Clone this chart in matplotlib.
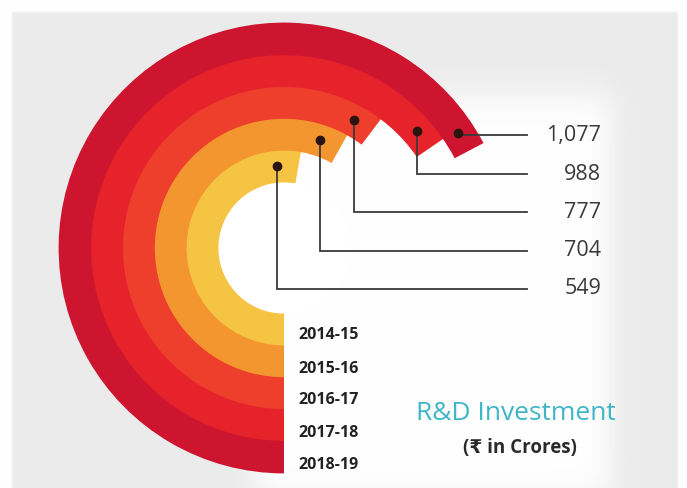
import numpy as np
import matplotlib
matplotlib.use("Agg")
import matplotlib.pyplot as plt
from matplotlib.patches import Wedge, Circle

# ---- data ----
years = ["2014-15", "2015-16", "2016-17", "2017-18", "2018-19"]
values = [549, 704, 777, 988, 1077]
value_labels = ["549", "704", "777", "988", "1,077"]
colors = ["#F6C443", "#F4962F", "#EE3E2C", "#E6222A", "#CE1530"]
title = "R&D Investment"
subtitle = "(₹ in Crores)"

W, H = 687, 488
fig = plt.figure(figsize=(W / 100, H / 100), dpi=100)
fig.patch.set_facecolor("white")
ax = fig.add_axes([0, 0, 1, 1])
ax.set_xlim(0, W)
ax.set_ylim(0, H)
ax.axis("off")

def Y(py):  # pixel row -> data y
    return H - py

# background: light grey panel with a soft white area behind the leaders
xx, yy = np.meshgrid(np.arange(W) + 0.5, np.arange(H) + 0.5)
def soft(a, lo, hi, s):
    return 1 / (1 + np.exp(-(a - lo) / s)) * 1 / (1 + np.exp((a - hi) / s))
white = soft(xx, 255, 612, 8) * soft(yy, 95, 500, 10)
panel = soft(xx, 12, 678, 0.6) * soft(yy, 12, 600, 0.6)
grey = np.array([235, 235, 235]) / 255.0
base = 1 - panel[..., None] * (1 - grey)
img = base * (1 - white[..., None]) + white[..., None] * 1.0
ax.imshow(img, extent=(0, W, 0, H), origin="upper", zorder=0, interpolation="bilinear")
ax.set_xlim(0, W)
ax.set_ylim(0, H)

# radial scale: value -> clockwise sweep (deg) from 6 o'clock (log scale)
dom = (500.0, 1100.0)
rng = (182.7, 243.9)
def sweep(v):
    t = (np.log(v) - np.log(dom[0])) / (np.log(dom[1]) - np.log(dom[0]))
    return rng[0] + t * (rng[1] - rng[0])

cx, cy = 284, Y(248)
r_in, r_out = 66, 225
band = (r_out - r_in) / len(values)

ax.add_patch(Circle((cx, cy), r_in, fc="white", ec="none", zorder=1))

label_rows = [289, 251, 212, 174, 135]  # pixel rows of leader lines (549 ... 1,077)
line_end_x = 527
dot_back = 21  # px back along the arc from the end

for i, (v, c) in enumerate(zip(values, colors)):
    r1 = r_in + band * (i + 1)
    s = sweep(v)
    ax.add_patch(Wedge((cx, cy), r1 + 0.4, 270 - s, 270, width=band + 0.8, fc=c, ec="none", zorder=2))

for i, v in enumerate(values):
    rm = r_in + band * (i + 0.5)
    s = sweep(v)
    ang = np.deg2rad(270 - s) + dot_back / rm
    dx, dy = cx + rm * np.cos(ang), cy + rm * np.sin(ang)
    ly = Y(label_rows[i])
    ax.plot([dx, dx, line_end_x], [dy, ly, ly], color="#3a3a3a", lw=1.3,
            solid_joinstyle="miter", zorder=3)
    ax.plot([dx], [dy], "o", ms=6, color="#2a1410", zorder=4)
    ax.text(601, ly, value_labels[i], ha="right", va="center", fontsize=15.5,
            color="#3a3a3a", family=["Open Sans", "DejaVu Sans"], zorder=5)

year_rows = [335, 369, 400, 433, 465]
for yr, row in zip(years, year_rows):
    ax.text(298, Y(row), yr, ha="left", va="center", fontsize=11.5, fontweight="bold",
            color="#222222", family=["Open Sans", "DejaVu Sans"], zorder=5)

ax.text(516, Y(413), title, ha="center", va="center", fontsize=19, color="#3DB6C6",
        family=["Open Sans", "DejaVu Sans"], zorder=5)
ax.text(520, Y(448), subtitle, ha="center", va="center", fontsize=13.5, fontweight="bold",
        color="#2a2a2a", family=["Open Sans", "DejaVu Sans"], zorder=5)

fig.savefig("out.png", dpi=100, facecolor=fig.get_facecolor())
